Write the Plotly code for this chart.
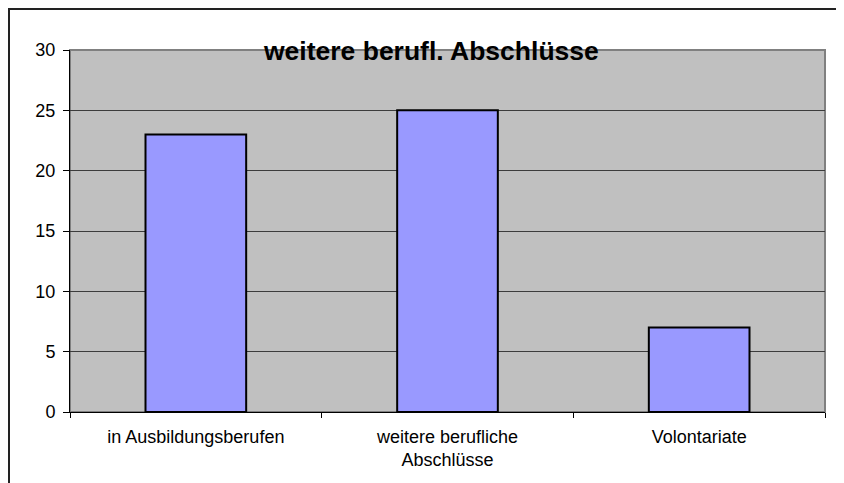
import plotly.graph_objects as go

categories = ["in Ausbildungsberufen", "weitere berufliche<br>Abschlüsse", "Volontariate"]
values = [23, 25, 7]
y_ticks = [0, 5, 10, 15, 20, 25, 30]
title_text = "weitere berufl. Abschlüsse"

# the page body adds an 8px offset, so the figure is sized to fill the rest
OFF = 8
W, H = 844 - OFF, 483 - OFF
L, R, T, B = 70 - OFF, 19, 50 - OFF, 71
pw, ph = W - L - R, H - T - B

def px_x(sx):
    return (sx - OFF - L) / pw

def px_y(sy):
    return 1 - (sy - OFF - T) / ph

fig = go.Figure(go.Bar(
    x=categories, y=values, width=0.4,
    marker=dict(color="#9999FF", line=dict(color="black", width=2)),
))

fig.update_layout(
    width=W, height=H,
    margin=dict(l=L, r=R, t=T, b=B),
    paper_bgcolor="white", plot_bgcolor="#C0C0C0",
    showlegend=False,
    font=dict(family="Arial, Liberation Sans, sans-serif", size=18, color="black"),
)
fig.update_xaxes(
    showgrid=False, showline=True, linecolor="black", linewidth=1,
    ticks="outside", tickson="boundaries", ticklen=5, tickcolor="black",
    tickfont=dict(size=18), ticklabelstandoff=8,
)
fig.update_yaxes(
    range=[0, 30], tickvals=y_ticks, showgrid=True, gridcolor="#3c3c3c", gridwidth=1,
    showline=True, linecolor="black", linewidth=1, zeroline=False,
    ticks="outside", ticklen=6, tickcolor="black", tickfont=dict(size=18),
    ticklabelstandoff=4,
)

# plot area frame (gray)
fig.add_shape(type="rect", xref="paper", yref="paper", x0=0, x1=1, y0=0, y1=1,
              line=dict(color="#808080", width=2), layer="below")
# outer chart border (extends beyond the picture on right/bottom)
fig.add_shape(type="rect", xref="paper", yref="paper",
              x0=px_x(9), x1=px_x(900), y0=px_y(560), y1=px_y(9),
              line=dict(color="#222222", width=2))

fig.add_annotation(
    text="<b>" + title_text + "</b>", xref="paper", yref="paper",
    x=px_x(430.5), y=px_y(51), xanchor="center", yanchor="middle",
    showarrow=False, font=dict(size=26.5, color="black"),
)

fig.write_html("out.html")
